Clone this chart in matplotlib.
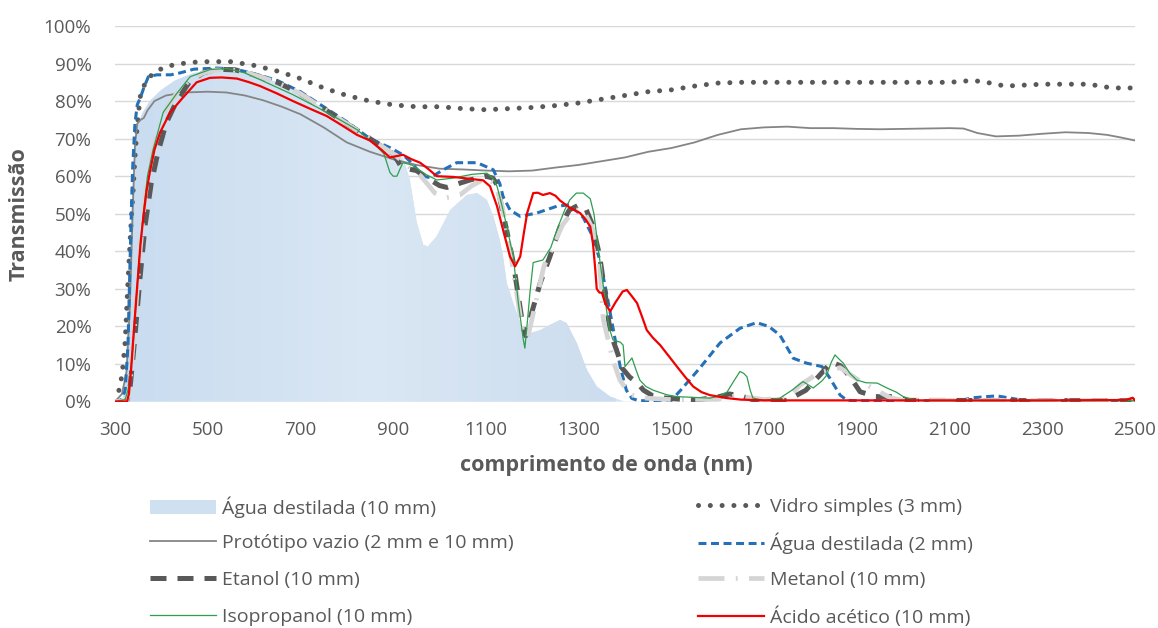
import numpy as np
import matplotlib
matplotlib.use("Agg")
import matplotlib.pyplot as plt
from matplotlib.colors import LinearSegmentedColormap
from matplotlib.patches import Patch
from matplotlib.lines import Line2D
from matplotlib.ticker import MultipleLocator, FuncFormatter

plt.rcParams['font.family'] = ['Open Sans', 'DejaVu Sans']

# %%
# Água destilada (10 mm) - area
agua10_nm = [300, 315, 322, 330, 337, 343, 350, 360, 375, 400, 430, 470, 520, 560, 600, 650,
             700, 750, 800, 850, 880, 905, 921, 936, 951, 965, 975, 994, 1023, 1059, 1081,
             1102, 1116, 1130, 1137, 1145, 1159, 1180, 1195, 1217, 1238, 1260, 1274, 1296,
             1318, 1339, 1368, 1389, 1400, 2500]
agua10_T = [0, 0, 5, 30, 55, 68, 74, 77, 80, 83, 85.5, 87.5, 88.3, 88.2, 87, 85,
            82, 78, 74, 70, 67.5, 64.5, 65, 59, 47.6, 41.7, 41.3, 44, 51, 55, 55.5,
            53.7, 49.3, 43, 38.6, 31.6, 26.2, 19, 18.2, 19, 20.4, 21.7, 20.9, 15.6,
            8.4, 4, 1.3, 0.4, 0, 0]

# Vidro simples (3 mm)
vidro_nm = [300, 306, 311, 316, 322, 328, 334, 339, 343, 347, 354, 362, 375, 390, 412, 460,
            500, 550, 600, 650, 700, 750, 800, 850, 900, 950, 1000, 1050, 1100, 1150, 1200,
            1250, 1300, 1350, 1400, 1450, 1500, 1550, 1600, 1650, 1700, 1800, 1900, 2000,
            2100, 2150, 2180, 2220, 2300, 2400, 2450, 2500]
vidro_T = [0, 2, 4, 8, 16, 32, 46, 56, 65, 72, 81, 84, 86.5, 88, 89.3, 90.3,
           90.5, 90.5, 89.5, 88, 86, 83.5, 81.5, 80, 79, 78.5, 78.5, 78, 77.7, 78, 78.3,
           78.8, 79.5, 80.5, 81.5, 82.5, 83, 84, 84.8, 85, 85, 85, 85, 85,
           85, 85.5, 85, 84, 84.5, 84.5, 83.5, 83.5]

# Protótipo vazio (2 mm e 10 mm)
prot_nm = [300, 315, 325, 332, 338, 343, 348, 355, 362, 370, 385, 410, 450, 500, 540, 580,
           620, 660, 700, 750, 800, 850, 900, 950, 1000, 1050, 1100, 1150, 1200, 1250, 1300,
           1350, 1400, 1450, 1500, 1550, 1600, 1650, 1700, 1750, 1800, 1850, 1900, 1950,
           2000, 2050, 2100, 2130, 2160, 2200, 2250, 2300, 2350, 2400, 2440, 2470, 2500]
prot_T = [0, 2, 8, 25, 50, 68, 74, 75, 75.5, 77.5, 80, 81.5, 82.3, 82.5, 82.3, 81.5,
          80.2, 78.5, 76.5, 73, 69, 66.5, 64.5, 63, 62, 61.8, 61.5, 61.3, 61.5, 62.3, 63,
          64, 65, 66.5, 67.5, 69, 71, 72.5, 73, 73.2, 72.8, 72.8, 72.6, 72.5,
          72.6, 72.7, 72.8, 72.7, 71.5, 70.6, 70.8, 71.3, 71.7, 71.5, 71, 70.3, 69.5]

# Água destilada (2 mm)
agua2_nm = [300, 315, 322, 328, 333, 338, 343, 348, 355, 362, 372, 390, 420, 440, 470, 520,
            560, 600, 650, 700, 750, 800, 850, 893, 921, 936, 965, 980, 1008, 1037, 1081,
            1116, 1130, 1137, 1152, 1174, 1210, 1253, 1281, 1310, 1330, 1345, 1360, 1375,
            1390, 1403, 1415, 1430, 1500, 1520, 1562, 1605, 1648, 1684, 1710, 1734, 1763,
            1792, 1825, 1842, 1864, 1879, 1900, 2120, 2151, 2180, 2202, 2245, 2270, 2500]
agua2_T = [0, 0.5, 3, 15, 40, 62, 74, 79, 81, 83.5, 86.5, 87, 87, 87.5, 88.5, 88.8,
           88.5, 87.3, 85.5, 82.5, 78.5, 74.5, 70, 67.6, 65.7, 64, 60, 59.6, 61.7, 63.6, 63.6,
           61.7, 58, 54.6, 51, 49.3, 50.2, 52, 52.4, 49, 44, 38, 29, 19,
           9, 3, 0.8, 0.2, 0.3, 3, 9, 15.6, 19.5, 21, 20, 17.7, 11.5,
           10.2, 9.3, 6.2, 1.7, 0.3, 0.2, 0.2, 1, 1.3, 1.5, 0.6, 0.2, 0.2]

# Etanol (10 mm)
etanol_nm = [300, 325, 332, 342, 354, 365, 378, 392, 410, 433, 460, 490, 520, 560, 600, 650,
             700, 750, 800, 850, 880, 900, 915, 930, 950, 980, 1000, 1016, 1040, 1066, 1100,
             1115, 1125, 1135, 1145, 1159, 1170, 1180, 1186, 1195, 1217, 1238, 1260, 1280,
             1300, 1315, 1330, 1345, 1358, 1368, 1385, 1393, 1410, 1426, 1440, 1460, 1480,
             1520, 1560, 1600, 1625, 1650, 1680, 1750, 1790, 1820, 1845, 1865, 1886, 1907,
             1940, 1980, 2010, 2500]
etanol_T = [0, 0, 3, 16, 33, 47, 58, 66, 74, 80, 85, 87.5, 88.5, 88.3, 87, 85,
            82, 78, 74, 70, 67.5, 66, 63, 62, 61.5, 59, 57.5, 57, 58, 59, 60,
            59.5, 57.5, 51, 45.5, 37, 28, 20, 17.5, 22, 31.5, 38.6, 46.5, 51,
            52.3, 51.5, 47, 39, 28, 18.5, 12.5, 9, 6.5, 5, 3, 1.5, 1,
            0.6, 0.5, 1.2, 2, 1.5, 0.3, 0.3, 3, 7, 10.5, 9.5, 6.5, 2.6,
            1.3, 1.3, 0.3, 0.2]

# Metanol (10 mm)
metanol_nm = [300, 325, 332, 342, 354, 365, 378, 392, 410, 433, 460, 490, 520, 560, 600, 650,
              700, 750, 800, 850, 900, 930, 960, 990, 1016, 1044, 1070, 1100, 1120, 1135,
              1150, 1165, 1180, 1190, 1205, 1225, 1242, 1265, 1290, 1310, 1330, 1345, 1353,
              1374, 1389, 1410, 1430, 1500, 1600, 1640, 1700, 1750, 1778, 1810, 1829, 1864,
              1900, 1922, 1950, 1972, 2000, 2500]
metanol_T = [0, 0, 4, 20, 40, 55, 65, 72, 78, 82, 85.5, 87.5, 88.3, 88.2, 87, 85,
             82, 78, 74, 70, 66, 63, 60, 55.5, 54.3, 55, 57.5, 59.5, 58, 52,
             42, 30, 18, 17, 25, 36, 40.5, 47, 51, 51, 46, 37, 22,
             11, 5.7, 2, 1, 0.5, 0.6, 1.5, 0.5, 1, 4.4, 7, 8, 9,
             6, 4.4, 2.5, 1, 0.3, 0.2]

# Isopropanol (10 mm)
iso_nm = [300, 322, 330, 337, 343, 350, 361, 370, 382, 404, 433, 462, 505, 542, 580, 613,
          684, 757, 822, 860, 880, 893, 900, 908, 915, 921, 940, 970, 994, 1030, 1070,
          1102, 1115, 1124, 1135, 1145, 1159, 1170, 1180, 1184, 1190, 1195, 1202, 1223,
          1240, 1253, 1270, 1281, 1295, 1310, 1325, 1333, 1343, 1353, 1365, 1374, 1390,
          1396, 1400, 1408, 1415, 1425, 1432, 1445, 1461, 1490, 1512, 1583, 1605, 1620,
          1635, 1648, 1656, 1663, 1670, 1676, 1700, 1734, 1760, 1784, 1806, 1825, 1835,
          1845, 1853, 1860, 1871, 1885, 1900, 1920, 1944, 1965, 1985, 2000, 2021, 2040, 2500]
iso_T = [0, 0.5, 4, 12, 22, 35, 50, 60, 67, 77, 82, 86.5, 88.4, 88.7, 87.5, 85.7,
         81.7, 77, 72.4, 68.5, 66, 61, 60, 60, 62, 63.6, 63, 60.5, 59, 59.5, 60.5,
         60.8, 59.5, 57.3, 52, 46.6, 38.6, 26.2, 17, 14.2, 22, 29, 37, 37.7,
         41, 45.7, 51, 53.7, 55.5, 55.5, 54, 50, 40, 31, 20, 16.4, 15.8,
         15, 9.3, 10.5, 11.6, 8, 5.7, 4, 3, 1.8, 1.3, 0.9, 1.5, 2.5,
         5.5, 8, 7.5, 6.6, 3, 0.9, 0.3, 0.9, 3, 5.3, 3.6, 5.5, 7,
         10.5, 12.4, 11.5, 10.2, 7.5, 5.7, 5, 4.9, 3.6, 2.5, 1.3, 0.5, 0.2, 0.2]

# Ácido acético (10 mm)
acido_nm = [300, 326, 330, 335, 339, 345, 350, 355, 361, 368, 375, 385, 397, 419, 447, 476,
            505, 530, 563, 590, 613, 650, 684, 720, 757, 790, 822, 850, 875, 893, 905,
            921, 940, 958, 975, 994, 1030, 1066, 1094, 1109, 1124, 1137, 1152, 1163, 1174,
            1182, 1189, 1202, 1212, 1223, 1238, 1250, 1260, 1281, 1303, 1315, 1325, 1331,
            1336, 1339, 1345, 1350, 1358, 1368, 1380, 1395, 1404, 1415, 1426, 1437, 1447,
            1460, 1476, 1495, 1512, 1530, 1547, 1565, 1583, 1620, 1650, 1700, 1900, 2100,
            2300, 2480, 2495, 2500]
acido_T = [0, 0, 2, 9, 16, 26, 34, 42, 49, 56, 61, 67, 71.6, 77, 81, 85,
           86.2, 86.3, 86, 85, 84, 82, 80, 78, 76, 73.5, 71, 69.5, 67, 65, 65.3,
           65.7, 64.5, 63.6, 62, 60, 59.8, 59.3, 58.9, 57.3, 52, 45.7, 38.6, 36, 38.6,
           45, 50.2, 55.5, 55.6, 55, 55.5, 54.8, 53.5, 51.6, 50.2, 48.5, 46.6, 42,
           35, 30, 29, 29, 26, 24, 26.5, 29.3, 29.7, 28, 26.2, 22.5, 19,
           17, 15, 12, 9.3, 6.5, 4, 2.5, 1.7, 0.9, 0.5, 0.3, 0.3, 0.3,
           0.3, 0.4, 1.0, 0.3]

labels = ['Água destilada (10 mm)', 'Vidro simples (3 mm)', 'Protótipo vazio (2 mm e 10 mm)',
          'Água destilada (2 mm)', 'Etanol (10 mm)', 'Metanol (10 mm)',
          'Isopropanol (10 mm)', 'Ácido acético (10 mm)']

x_ticks = list(range(300, 2501, 200))

# %%
fig = plt.figure(figsize=(11.58, 6.28), dpi=100)
ax = fig.add_axes([115 / 1158, 1 - 401.5 / 628, 1020 / 1158, 375.5 / 628])

txt_grey = '#595959'

# line styles, shared by plot and legend
st_vidro = dict(color='#595959', lw=3.6, ls=(0, (0.01, 2.35)), dash_capstyle='round')
st_prot = dict(color='#858585', lw=1.3)
st_agua2 = dict(color='#2471b7', lw=2.2, ls=(0, (2.6, 1.5)))
st_etanol = dict(color='#595959', lw=3.6, ls=(0, (3.2, 2.2)))
st_metanol = dict(color='#d5d5d5', lw=3.4, ls=(0, (5.5, 2.4, 0.4, 2.4)))
st_iso = dict(color='#2f9e4f', lw=0.9)
st_acido = dict(color='#f00000', lw=1.6)

# area with a soft horizontal gradient like the Excel fill
area = ax.fill_between(agua10_nm, agua10_T, 0, facecolor='#d3e3f3', lw=0, zorder=1)
grad_cmap = LinearSegmentedColormap.from_list('fill', ['#c9dcf0', '#dae7f4', '#ccddef'])
im = ax.imshow(np.linspace(0, 1, 256).reshape(1, -1), extent=[320, 1380, 0, 100],
               aspect='auto', cmap=grad_cmap, zorder=1.5)
im.set_clip_path(area.get_paths()[0], transform=ax.transData)

ax.plot(vidro_nm, vidro_T, zorder=3, **st_vidro)
ax.plot(prot_nm, prot_T, zorder=3, **st_prot)
ax.plot(agua2_nm, agua2_T, zorder=3, **st_agua2)
ax.plot(etanol_nm, etanol_T, zorder=3, **st_etanol)
ax.plot(metanol_nm, metanol_T, zorder=3, **st_metanol)
ax.plot(iso_nm, iso_T, zorder=3, **st_iso)
ax.plot(acido_nm, acido_T, zorder=3, **st_acido)

ax.set_xlim(300, 2500)
ax.set_ylim(0, 100)
ax.set_xticks(x_ticks)
ax.yaxis.set_major_locator(MultipleLocator(10))
ax.yaxis.set_major_formatter(FuncFormatter(lambda v, p: f'{v:.0f}%'))
ax.grid(axis='y', color='#d9d9d9', lw=1)
ax.set_axisbelow(True)
for s in ax.spines.values():
    s.set_visible(False)
ax.tick_params(length=0, labelsize=13.5, colors=txt_grey)
ax.tick_params(axis='x', pad=14)
ax.tick_params(axis='y', pad=17)

ax.set_xlabel('comprimento de onda (nm)', fontsize=15.5, fontweight='bold', color=txt_grey)
ax.xaxis.set_label_coords((606 - 115) / 1020, -0.143)
ax.set_ylabel('Transmissão', fontsize=15.5, fontweight='bold', color=txt_grey)
ax.yaxis.set_label_coords(-0.084, 0.5)

# legend: two columns, one entry per row so the rows sit at fixed heights
handles = [Patch(facecolor='#cfe0f1', edgecolor='none'), Line2D([], [], **st_vidro),
           Line2D([], [], **st_prot), Line2D([], [], **st_agua2),
           Line2D([], [], **st_etanol), Line2D([], [], **st_metanol),
           Line2D([], [], **st_iso), Line2D([], [], **st_acido)]
row_y = [507, 543, 580, 617]
col_x = [150, 698]
for i, (h, lab) in enumerate(zip(handles, labels)):
    leg = fig.legend([h], [lab], loc='center left', frameon=False, fontsize=14,
                     handlelength=3.4, handletextpad=0.3, borderpad=0, borderaxespad=0,
                     labelcolor=txt_grey,
                     bbox_to_anchor=(col_x[i % 2] / 1158, 1 - row_y[i // 2] / 628))

plt.savefig('out.png', dpi=100)
plt.close(fig)
